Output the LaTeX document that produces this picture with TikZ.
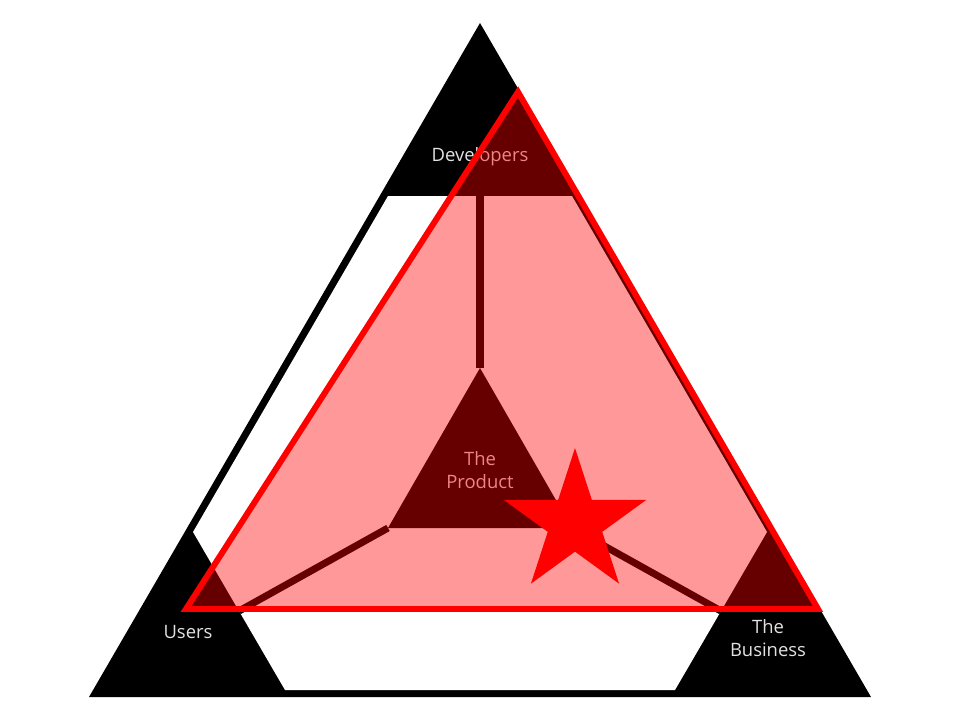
\documentclass[tikz,border=0pt]{standalone}
\usepackage{fontspec}
\setmainfont{Open Sans}
\usetikzlibrary{shapes.geometric}
\definecolor{lbltext}{HTML}{E2E2E2}

\begin{document}
\begin{tikzpicture}[x=0.02cm,y=-0.02cm,
  lbl/.style={font=\fontsize{10.5}{13.5}\selectfont,text=lbltext,align=center,inner sep=0pt},
  spoke/.style={black,line width=4pt}]
  \useasboundingbox (0,0) rectangle (960,720);

  % Outer triangle, corners stay black
  \fill[black] (480,23) -- (89,697) -- (871,697) -- cycle;
  \fill[white] (388,196) -- (572,196) -- (767,532) -- (675,690) -- (285,690) -- (193,532) -- cycle;

  % The product in the middle
  \coordinate (ptop) at (480,368);
  \coordinate (pleft) at (388,528);
  \coordinate (pright) at (572,528);
  \fill[black] (ptop) -- (pleft) -- (pright) -- cycle;

  % Spokes out to the corners
  \coordinate (devcut) at (480,196);
  \coordinate (usercut) at (239,611);
  \coordinate (bizcut) at (721,611);
  \draw[spoke] (ptop) -- (devcut);
  \draw[spoke] (pleft) -- (usercut);
  \draw[spoke] (pright) -- (bizcut);

  % Labels
  \node[lbl] (dev) at (480,157) {Developers};
  \node[lbl] (prod) at (480,470) {The\\Product};
  \node[lbl] (users) at (188,632) {Users};
  \node[lbl] (biz) at (768,638) {The\\Business};

  % Red overlay
  \filldraw[red,fill opacity=0.4,line width=3.4pt] (518,92) -- (186,609) -- (818,609) -- cycle;

  % Star
  \node[star,star points=5,star point ratio=2.618,fill=red,minimum size=3cm,inner sep=0pt] (mark) at (575,523) {};
\end{tikzpicture}
\end{document}
